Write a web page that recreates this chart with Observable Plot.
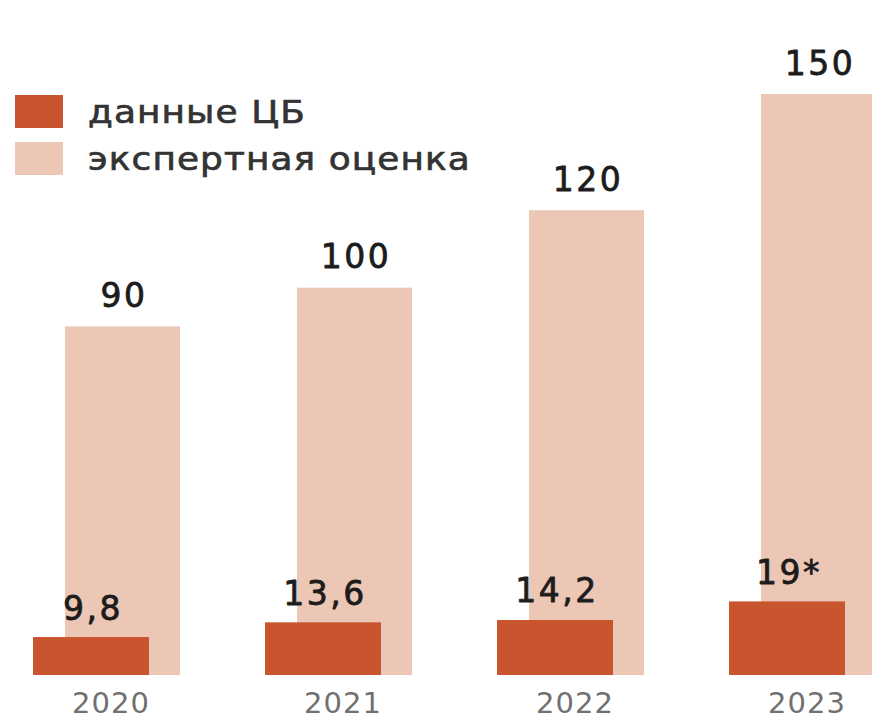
<!DOCTYPE html>
<html>
<head>
<meta charset="utf-8">
<script src="https://cdn.jsdelivr.net/npm/d3@7"></script>
<script src="https://cdn.jsdelivr.net/npm/@observablehq/plot@0.6"></script>
<style>
  html, body { margin: 0; padding: 0; background: #fff; overflow: hidden; }
  #wrap { position: relative; width: 872px; height: 720px; }
  #legend { position: absolute; left: 15px; top: 95px; font-family: "DejaVu Sans", Verdana, sans-serif; font-size: 32px; color: #333; letter-spacing: 1px; -webkit-text-stroke: 0.7px #333; }
  .item { display: flex; align-items: center; height: 33px; margin-bottom: 14px; }
  .sw { width: 48px; height: 33px; margin-right: 25px; flex: none; }
  .lab { display: inline-block; transform: scaleX(1.12); transform-origin: left center; white-space: nowrap; }
</style>
</head>
<body>
<div id="wrap">
  <div id="chart"></div>
  <div id="legend"></div>
</div>
<script>
const years = ["2020", "2021", "2022", "2023"];
const cbValues = [9.8, 13.6, 14.2, 19];
const cbLabels = ["9,8", "13,6", "14,2", "19*"];
const expertValues = [90, 100, 120, 150];
const expertLabels = ["90", "100", "120", "150"];
const seriesNames = ["данные ЦБ", "экспертная оценка"];
const colors = ["#c9552f", "#ecc7b5"];

const cb = years.map((y, i) => ({year: y, value: cbValues[i], label: cbLabels[i]}));
const ex = years.map((y, i) => ({year: y, value: expertValues[i], label: expertLabels[i]}));

const font = "DejaVu Sans, Verdana, sans-serif";
const chart = Plot.plot({
  width: 872,
  height: 720,
  marginLeft: 32,
  marginRight: -4,
  marginTop: 94,
  marginBottom: 45,
  style: {background: "transparent", overflow: "hidden"},
  x: {domain: years, paddingInner: 0.368, paddingOuter: 0, label: null, tickSize: 0, tickPadding: 17},
  y: {domain: [0, 150], axis: null},
  marks: [
    Plot.barY(ex, {x: "year", y: "value", fill: colors[1], insetLeft: 32}),
    Plot.barY(cb, {x: "year", y: "value", fill: colors[0], insetRight: 31}),
    Plot.text(ex, {x: "year", y: "value", text: "label", dx: 17, dy: -20, lineAnchor: "bottom",
      fontSize: 33, fill: "#1c1c1c", stroke: "#1c1c1c", strokeWidth: 0.8, fontFamily: font}),
    Plot.text(cb, {x: "year", y: "value", text: "label", dx: -14, dy: -18, lineAnchor: "bottom",
      fontSize: 33, fill: "#1c1c1c", stroke: "#1c1c1c", strokeWidth: 0.8, fontFamily: font}),
    Plot.axisX({tickSize: 0, tickPadding: 17, fontSize: 29, fill: "#707070", label: null,
      fontFamily: font, dx: 4})
  ]
});
chart.querySelectorAll("[aria-label=text] text").forEach(t => t.style.letterSpacing = "2.5px");
chart.querySelectorAll("[aria-label='x-axis tick label'] text").forEach(t => t.style.letterSpacing = "1px");
document.getElementById("chart").appendChild(chart);

const legend = document.getElementById("legend");
seriesNames.forEach((name, i) => {
  const row = document.createElement("div");
  row.className = "item";
  const sw = document.createElement("div");
  sw.className = "sw";
  sw.style.background = colors[i];
  const lab = document.createElement("span");
  lab.className = "lab";
  lab.textContent = name;
  row.appendChild(sw);
  row.appendChild(lab);
  legend.appendChild(row);
});
</script>
</body>
</html>
